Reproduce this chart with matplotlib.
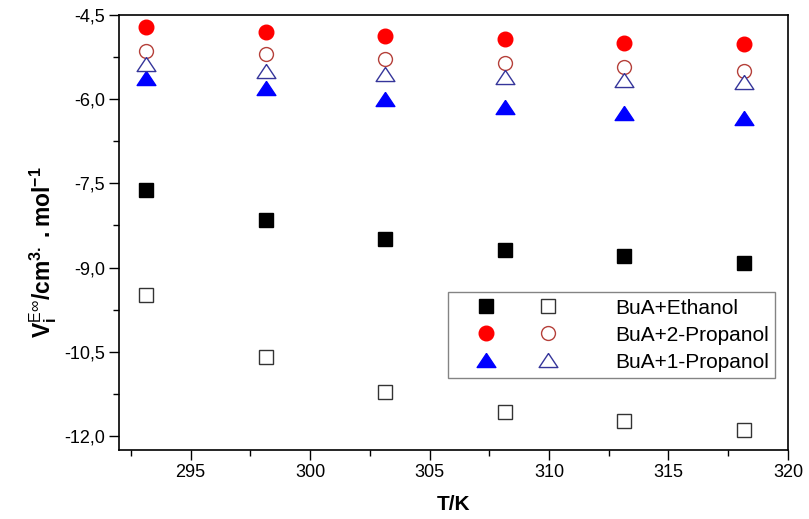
import matplotlib
matplotlib.use("Agg")
import matplotlib.pyplot as plt
from matplotlib.legend_handler import HandlerTuple
from matplotlib.ticker import MultipleLocator, FuncFormatter

plt.rcParams['font.family'] = ['Liberation Sans', 'DejaVu Sans']
plt.rcParams['mathtext.fontset'] = 'custom'
plt.rcParams['mathtext.rm'] = 'Liberation Sans'
plt.rcParams['mathtext.bf'] = 'Liberation Sans:bold'
plt.rcParams['mathtext.it'] = 'Liberation Sans:italic'

# Temperatures (K)
temperature = [293.15, 298.15, 303.15, 308.15, 313.15, 318.15]

# Partial molar excess volumes at infinite dilution (cm3/mol)
ethanol_filled = [-7.62, -8.15, -8.49, -8.69, -8.80, -8.91]
ethanol_open = [-9.48, -10.59, -11.22, -11.57, -11.73, -11.89]
propanol2_filled = [-4.72, -4.80, -4.87, -4.93, -4.99, -5.02]
propanol2_open = [-5.14, -5.20, -5.28, -5.36, -5.42, -5.50]
propanol1_filled = [-5.63, -5.80, -5.99, -6.13, -6.24, -6.34]
propanol1_open = [-5.37, -5.49, -5.55, -5.60, -5.65, -5.69]

series_labels = ["BuA+Ethanol", "BuA+2-Propanol", "BuA+1-Propanol"]

tri = [(0, 0.75), (-1, -0.75), (1, -0.75), (0, 0.75)]

fig = plt.figure(figsize=(8.09, 5.19), dpi=100)
ax = fig.add_axes([0.147, 0.133, 0.827, 0.838])

h1f, = ax.plot(temperature, ethanol_filled, ls='none', marker='s', ms=9.5,
               mfc='black', mec='black')
h1o, = ax.plot(temperature, ethanol_open, ls='none', marker='s', ms=9.5,
               mfc='white', mec='#333333', mew=1.0)
h2f, = ax.plot(temperature, propanol2_filled, ls='none', marker='o', ms=10.5,
               mfc='#ff0000', mec='#ff0000')
h2o, = ax.plot(temperature, propanol2_open, ls='none', marker='o', ms=10,
               mfc='white', mec='#b5403a', mew=1.0)
h3f, = ax.plot(temperature, propanol1_filled, ls='none', marker=tri, ms=13.5,
               mfc='#0000ff', mec='#0000ff')
h3o, = ax.plot(temperature, propanol1_open, ls='none', marker=tri, ms=13.5,
               mfc='white', mec='#35359a', mew=1.0)

ax.set_xlim(292.0, 320.0)
ax.set_ylim(-12.25, -4.5)

ax.xaxis.set_major_locator(MultipleLocator(5))
ax.xaxis.set_minor_locator(MultipleLocator(2.5))
ax.yaxis.set_major_locator(MultipleLocator(1.5))
ax.yaxis.set_minor_locator(MultipleLocator(0.75))
ax.yaxis.set_major_formatter(FuncFormatter(lambda v, p: f"{v:.1f}".replace('.', ',')))

ax.tick_params(which='both', direction='out', top=False, right=False,
               labelsize=13, colors='black', width=1.0)
ax.tick_params(which='major', length=7, pad=3)
ax.tick_params(which='minor', length=4)
for s in ax.spines.values():
    s.set_linewidth(1.2)

ax.set_xlabel("T/K", fontsize=15, fontweight='bold', labelpad=10)
ax.set_ylabel(r'$\mathbf{V}_{\mathbf{i}}^{\mathrm{E\infty}}\mathbf{/cm}^{\mathbf{3.}}\mathbf{\ .mol}^{\mathbf{-1}}$',
              fontsize=16.5)
ax.yaxis.set_label_coords(-0.089, 0.455)

leg = ax.legend([(h1f, h1o), (h2f, h2o), (h3f, h3o)], series_labels,
                handler_map={tuple: HandlerTuple(ndivide=None, pad=0.0)},
                loc='lower right', bbox_to_anchor=(0.981, 0.166),
                borderaxespad=0, fontsize=15, frameon=True, fancybox=False,
                handlelength=5.96, handletextpad=1.74, borderpad=0.3,
                labelspacing=0.38, numpoints=1)
leg.get_frame().set_edgecolor('#666666')
leg.get_frame().set_linewidth(1.0)

fig.savefig("out.png", dpi=100)
